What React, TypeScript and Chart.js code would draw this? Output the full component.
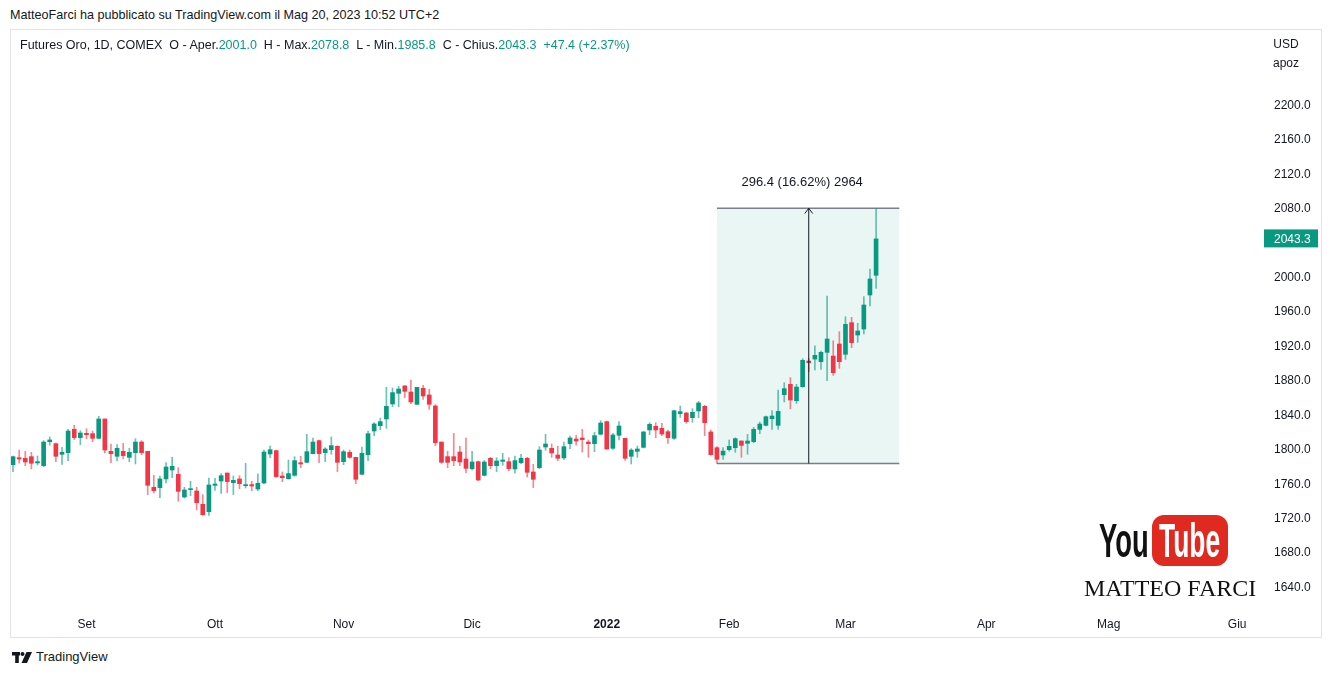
import React, { useEffect, useRef } from 'react';
import { Chart, registerables } from 'chart.js';

Chart.register(...registerables);

// ---- Data (Gold futures, COMEX, daily; index 0 = 16 Aug 2021, index 141 = 8 Mar 2022) ----
const opens = [
  1781.0, 1789.1, 1788.4, 1790.3, 1783.0, 1779.8, 1807.7, 1805.4, 1793.0, 1794.9,
  1822.1, 1812.4, 1817.4, 1817.0, 1811.6, 1834.1, 1796.5, 1790.7, 1796.5, 1789.5,
  1794.9, 1807.3, 1796.5, 1754.7, 1754.3, 1764.4, 1774.8, 1769.8, 1743.4, 1752.0,
  1750.4, 1734.9, 1726.4, 1757.0, 1762.0, 1771.3, 1760.1, 1764.4, 1756.6, 1757.8,
  1752.7, 1759.7, 1793.4, 1797.3, 1767.8, 1764.7, 1768.6, 1783.3, 1783.7, 1793.8,
  1808.9, 1794.9, 1798.4, 1802.3, 1784.5, 1795.3, 1789.5, 1769.8, 1792.6, 1820.1,
  1826.3, 1834.1, 1851.5, 1863.9, 1872.4, 1865.4, 1851.1, 1869.7, 1862.0, 1849.2,
  1807.3, 1790.3, 1790.3, 1795.7, 1787.6, 1776.4, 1784.5, 1768.6, 1788.4, 1779.8,
  1784.9, 1784.5, 1776.0, 1783.3, 1788.4, 1772.5, 1777.5, 1801.5, 1800.0, 1792.2,
  1788.8, 1805.4, 1810.8, 1812.0, 1807.3, 1805.4, 1816.3, 1831.0, 1800.0, 1815.1,
  1811.6, 1790.7, 1796.5, 1801.1, 1821.3, 1825.5, 1823.2, 1819.3, 1811.6, 1840.3,
  1841.0, 1835.6, 1843.4, 1848.8, 1819.0, 1800.7, 1792.2, 1798.4, 1800.7, 1808.5,
  1805.8, 1807.7, 1822.0, 1826.7, 1834.4, 1826.7, 1862.3, 1874.3, 1855.3, 1871.6,
  1901.4, 1903.7, 1900.6, 1911.5, 1907.2, 1921.2, 1909.2, 1946.0, 1931.6, 1938.6,
  1978.1, 2001.0,
];
const highs = [
  1791.1, 1798.0, 1796.5, 1795.3, 1791.1, 1808.9, 1813.2, 1806.2, 1801.1, 1822.1,
  1826.7, 1820.5, 1822.8, 1820.1, 1837.2, 1834.1, 1805.0, 1804.2, 1805.8, 1800.0,
  1811.2, 1808.9, 1796.5, 1768.6, 1767.8, 1783.3, 1789.5, 1777.5, 1754.7, 1761.6,
  1754.7, 1746.2, 1765.5, 1765.1, 1770.6, 1771.3, 1767.8, 1768.2, 1782.6, 1761.6,
  1770.2, 1798.0, 1802.7, 1798.0, 1772.5, 1786.4, 1790.3, 1790.7, 1816.3, 1812.0,
  1809.7, 1800.8, 1813.2, 1803.1, 1798.0, 1798.0, 1789.5, 1801.5, 1820.1, 1829.8,
  1835.2, 1870.9, 1870.1, 1872.0, 1873.2, 1879.4, 1870.9, 1873.2, 1868.5, 1850.7,
  1807.3, 1796.5, 1817.4, 1802.3, 1812.0, 1796.5, 1785.3, 1785.7, 1789.5, 1789.1,
  1794.2, 1789.1, 1791.1, 1793.0, 1789.5, 1781.4, 1801.9, 1816.3, 1805.0, 1802.3,
  1807.3, 1814.3, 1815.1, 1822.1, 1809.7, 1818.6, 1832.1, 1831.7, 1817.4, 1831.0,
  1811.6, 1799.6, 1802.7, 1819.7, 1829.8, 1829.8, 1829.0, 1821.3, 1844.5, 1849.2,
  1841.8, 1846.1, 1854.6, 1850.0, 1821.3, 1801.9, 1800.7, 1809.6, 1812.3, 1808.8,
  1816.2, 1824.3, 1830.5, 1837.5, 1843.7, 1867.7, 1876.2, 1882.1, 1874.3, 1904.1,
  1904.5, 1919.2, 1913.0, 1976.9, 1925.0, 1935.5, 1952.9, 1952.2, 1945.2, 1976.2,
  2008.3, 2078.8,
];
const lows = [
  1772.9, 1782.6, 1779.8, 1776.0, 1780.6, 1778.7, 1803.5, 1784.5, 1781.4, 1785.7,
  1810.1, 1804.2, 1811.2, 1807.7, 1810.8, 1794.6, 1783.3, 1785.3, 1788.0, 1784.5,
  1781.8, 1792.6, 1746.2, 1748.1, 1742.7, 1759.7, 1765.9, 1738.4, 1742.3, 1745.0,
  1728.3, 1722.1, 1722.1, 1751.2, 1747.7, 1748.5, 1746.2, 1753.1, 1753.9, 1750.8,
  1750.8, 1758.9, 1789.1, 1766.3, 1761.3, 1764.0, 1767.5, 1777.5, 1783.3, 1793.4,
  1783.3, 1784.5, 1793.0, 1772.9, 1781.0, 1788.4, 1758.9, 1769.0, 1785.7, 1814.7,
  1821.7, 1823.2, 1848.4, 1848.4, 1858.9, 1851.9, 1850.7, 1856.9, 1845.3, 1803.1,
  1782.6, 1777.5, 1779.8, 1779.8, 1771.7, 1774.8, 1762.4, 1767.8, 1776.4, 1772.9,
  1780.2, 1774.0, 1771.0, 1782.2, 1766.7, 1754.3, 1776.4, 1797.7, 1789.5, 1785.7,
  1787.2, 1799.6, 1803.5, 1795.7, 1789.5, 1796.1, 1815.5, 1798.8, 1798.8, 1809.7,
  1786.0, 1781.8, 1789.5, 1800.4, 1815.9, 1812.4, 1814.7, 1805.8, 1810.4, 1836.0,
  1829.0, 1830.2, 1835.6, 1814.7, 1791.9, 1782.4, 1787.2, 1796.8, 1795.3, 1789.5,
  1793.0, 1806.5, 1817.0, 1825.9, 1822.0, 1822.0, 1853.8, 1846.0, 1852.2, 1870.8,
  1889.0, 1891.0, 1891.7, 1878.6, 1884.8, 1892.9, 1903.3, 1916.9, 1923.1, 1932.8,
  1965.3, 1985.8,
];
const closes = [
  1790.3, 1787.6, 1784.1, 1782.6, 1784.5, 1807.3, 1809.7, 1790.7, 1795.3, 1820.1,
  1812.4, 1817.8, 1815.9, 1811.6, 1834.1, 1798.0, 1793.8, 1800.0, 1791.5, 1795.3,
  1807.3, 1794.9, 1757.0, 1750.8, 1764.4, 1778.3, 1779.1, 1750.0, 1751.6, 1753.1,
  1736.9, 1722.9, 1757.4, 1758.5, 1768.2, 1761.3, 1762.8, 1758.9, 1757.8, 1756.2,
  1759.3, 1795.7, 1798.4, 1767.1, 1765.9, 1770.6, 1785.7, 1781.8, 1796.1, 1807.3,
  1793.8, 1799.2, 1803.1, 1783.7, 1796.1, 1789.5, 1764.0, 1794.2, 1817.0, 1828.3,
  1831.0, 1848.8, 1864.7, 1868.9, 1866.2, 1853.8, 1870.9, 1860.8, 1851.1, 1806.6,
  1783.7, 1783.7, 1785.7, 1784.1, 1776.7, 1784.1, 1763.2, 1784.1, 1779.8, 1785.3,
  1786.4, 1776.4, 1785.7, 1788.4, 1772.1, 1764.0, 1798.0, 1805.0, 1794.6, 1788.4,
  1801.9, 1812.0, 1808.5, 1810.1, 1805.4, 1814.7, 1829.4, 1799.2, 1815.5, 1825.9,
  1788.4, 1798.0, 1799.2, 1819.0, 1827.9, 1821.3, 1816.6, 1812.4, 1843.7, 1842.6,
  1831.0, 1841.8, 1852.7, 1829.8, 1792.6, 1787.2, 1796.8, 1802.3, 1811.2, 1803.4,
  1808.5, 1822.0, 1828.2, 1836.7, 1837.5, 1842.9, 1869.3, 1856.1, 1871.2, 1902.2,
  1899.5, 1908.0, 1911.5, 1927.0, 1887.9, 1900.6, 1944.0, 1922.7, 1936.3, 1966.5,
  1996.7, 2043.3,
];

// Time axis: bar index where each month starts, with its label
const monthTickIdx = [12, 33, 54, 75, 97, 117, 136, 159, 179, 200];
const monthLabels = ['Set', 'Ott', 'Nov', 'Dic', '2022', 'Feb', 'Mar', 'Apr', 'Mag', 'Giu'];
const yearTickIdx = 97;

// Price axis ticks
const priceTicks = [1640, 1680, 1720, 1760, 1800, 1840, 1880, 1920, 1960, 2000, 2080, 2120, 2160, 2200];

// Measurement (price range) tool
const boxStartIdx = 115;
const boxEndIdx = 144.8;
const boxLow = 1782.4;
const boxHigh = 2078.8;
const measureIdx = 130;
const measureLabel = '296.4 (16.62%) 2964';

const lastClose = 2043.3;

const GREEN = '#089981';
const RED = '#f23645';
const GREEN_WICK = 'rgba(8,153,129,0.6)';
const RED_WICK = 'rgba(242,54,69,0.6)';
const TEXT = '#131722';
const FONT = "'Liberation Sans', Arial, sans-serif";

const overlayPlugin = {
  id: 'overlay',
  afterDatasetsDraw(chart: any) {
    const { ctx, chartArea, scales } = chart;
    const x = scales.x;
    const y = scales.y;
    ctx.save();
    // measurement label
    const cx = x.getPixelForValue((boxStartIdx + boxEndIdx) / 2);
    const ty = y.getPixelForValue(boxHigh) - 26;
    ctx.fillStyle = TEXT;
    ctx.font = `13px ${FONT}`;
    ctx.textAlign = 'center';
    ctx.textBaseline = 'middle';
    ctx.fillText(measureLabel, cx - 6, ty);
    // last price label on the price axis
    const py = y.getPixelForValue(lastClose);
    ctx.fillStyle = GREEN;
    ctx.fillRect(chartArea.right - 1, py - 9.5, 54, 18);
    ctx.fillStyle = '#ffffff';
    ctx.font = `12px ${FONT}`;
    ctx.textAlign = 'left';
    ctx.fillText(lastClose.toFixed(1), chartArea.right + 9, py + 0.5);
    ctx.restore();
  },
};

export default function App() {
  const ref = useRef<HTMLCanvasElement>(null);

  useEffect(() => {
    document.body.style.margin = '0';
    const idx = opens.map((_, i) => i);
    const up = opens.map((o, i) => closes[i] >= o);
    const chart = new Chart(ref.current as HTMLCanvasElement, {
      type: 'bar',
      data: {
        datasets: [
          {
            type: 'line',
            label: 'range-top',
            data: [
              { x: boxStartIdx, y: boxHigh },
              { x: boxEndIdx, y: boxHigh },
            ],
            borderColor: '#7b7e88',
            borderWidth: 1.5,
            pointRadius: 0,
            fill: '+1',
            backgroundColor: 'rgba(8,153,129,0.09)',
            order: 6,
          },
          {
            type: 'line',
            label: 'range-bottom',
            data: [
              { x: boxStartIdx, y: boxLow },
              { x: boxEndIdx, y: boxLow },
            ],
            borderColor: '#7b7e88',
            borderWidth: 1.5,
            pointRadius: 0,
            fill: false,
            order: 5,
          },
          {
            type: 'bar',
            label: 'wicks',
            data: idx.map((i) => ({ x: i, y: [lows[i], highs[i]] })),
            backgroundColor: up.map((u) => (u ? GREEN_WICK : RED_WICK)),
            barThickness: 1,
            grouped: false,
            order: 3,
          },
          {
            type: 'bar',
            label: 'bodies',
            data: idx.map((i) => ({ x: i, y: [opens[i], closes[i]] })),
            backgroundColor: up.map((u) => (u ? GREEN : RED)),
            barThickness: 4,
            minBarLength: 1,
            grouped: false,
            order: 2,
          },
          {
            type: 'line',
            label: 'measure',
            data: [
              { x: measureIdx, y: boxLow },
              { x: measureIdx, y: boxHigh },
            ],
            borderColor: TEXT,
            borderWidth: 1,
            pointRadius: 0,
            fill: false,
            order: 1,
          },
          {
            type: 'line',
            label: 'arrow',
            data: [
              { x: measureIdx - 0.65, y: boxHigh - 6 },
              { x: measureIdx, y: boxHigh },
              { x: measureIdx + 0.65, y: boxHigh - 6 },
            ],
            borderColor: TEXT,
            borderWidth: 1,
            pointRadius: 0,
            fill: false,
            order: 0,
          },
        ] as any,
      },
      options: {
        animation: false,
        responsive: false,
        events: [],
        layout: { autoPadding: false, padding: { left: 0, top: 0, right: 0, bottom: 0 } },
        plugins: {
          legend: { display: false },
          tooltip: { enabled: false },
        },
        scales: {
          x: {
            type: 'linear',
            min: -0.33,
            max: 204.54,
            offset: false,
            grid: { display: false, drawTicks: false, offset: false },
            border: { display: false },
            afterBuildTicks: (s: any) => {
              s.ticks = monthTickIdx.map((v) => ({ value: v }));
            },
            afterFit: (s: any) => {
              s.height = 28;
              s.paddingLeft = 0;
              s.paddingRight = 0;
            },
            ticks: {
              autoSkip: false,
              maxRotation: 0,
              padding: 8,
              color: TEXT,
              callback: (_v: any, i: number) => monthLabels[i],
              font: (c: any) => ({
                family: FONT,
                size: 12,
                weight: c.tick && c.tick.value === yearTickIdx ? 'bold' : 'normal',
              }),
            },
          },
          y: {
            type: 'linear',
            position: 'right',
            min: 1613.3,
            max: 2286.0,
            grid: { display: false, drawTicks: false },
            border: { display: false },
            afterBuildTicks: (s: any) => {
              s.ticks = priceTicks.map((v) => ({ value: v }));
            },
            afterFit: (s: any) => {
              s.width = 56;
              s.paddingTop = 0;
              s.paddingBottom = 0;
            },
            ticks: {
              padding: 9,
              labelOffset: 1.5,
              color: TEXT,
              font: { family: FONT, size: 12 },
              callback: (v: any) => Number(v).toFixed(1),
            },
          },
        },
      } as any,
      plugins: [overlayPlugin],
    });
    return () => chart.destroy();
  }, []);

  const abs: React.CSSProperties = { position: 'absolute', whiteSpace: 'nowrap' };
  const yt: React.CSSProperties = {
    ...abs,
    fontFamily: "'Liberation Sans', Arial, sans-serif",
    fontWeight: 'bold',
    fontSize: 48,
    lineHeight: '48px',
    transformOrigin: '0 0',
  };

  return (
    <div style={{ position: 'absolute', left: 0, top: 0, width: 1332, height: 676, background: '#fff', fontFamily: FONT, color: TEXT, overflow: 'hidden' }}>
      <div style={{ ...abs, left: 10, top: 7, fontSize: 12.6, lineHeight: '16px' }}>
        MatteoFarci ha pubblicato su TradingView.com il Mag 20, 2023 10:52 UTC+2
      </div>
      <div style={{ position: 'absolute', left: 10, top: 29, width: 1310, height: 607, border: '1px solid #e0e3eb' }} />
      <canvas ref={ref} width={1310} height={607} style={{ position: 'absolute', left: 11, top: 30, width: 1310, height: 607 }} />
      <div style={{ ...abs, left: 20, top: 37, fontSize: 12.5, lineHeight: '16px' }}>
        Futures Oro, 1D, COMEX&nbsp;&nbsp;O - Aper.<span style={{ color: GREEN }}>2001.0</span>&nbsp;&nbsp;H - Max.<span style={{ color: GREEN }}>2078.8</span>&nbsp;&nbsp;L - Min.<span style={{ color: GREEN }}>1985.8</span>&nbsp;&nbsp;C - Chius.<span style={{ color: GREEN }}>2043.3</span>&nbsp;&nbsp;<span style={{ color: GREEN }}>+47.4 (+2.37%)</span>
      </div>
      <div style={{ ...abs, left: 1266, width: 40, top: 35, fontSize: 12, lineHeight: '19px', textAlign: 'center' }}>
        USD<br />apoz
      </div>
      {/* YouTube / channel badge */}
      <div style={{ ...yt, left: 1099, top: 517, color: '#111', transform: 'scaleX(0.57)' }}>You</div>
      <div style={{ ...abs, left: 1152, top: 515, width: 76, height: 51, borderRadius: 12, background: '#e02a20' }} />
      <div style={{ ...yt, left: 1159, top: 517, color: '#fff', transform: 'scaleX(0.55)' }}>Tube</div>
      <div style={{ ...abs, left: 1084, top: 575, width: 172, fontFamily: "'Liberation Serif', 'Times New Roman', serif", fontSize: 24, lineHeight: '26px', color: '#111', textAlign: 'center' }}>
        MATTEO FARCI
      </div>
      {/* TradingView footer */}
      <svg style={{ position: 'absolute', left: 12, top: 652 }} width={20} height={11} viewBox="0 0 20 11">
        <rect x={0} y={0} width={8} height={3.5} fill="#131722" />
        <rect x={3.2} y={0} width={3.6} height={11} fill="#131722" />
        <circle cx={10.5} cy={2} r={2} fill="#131722" />
        <polygon points="14.5,0 20,0 15,11 9.5,11" fill="#131722" />
      </svg>
      <div style={{ ...abs, left: 36, top: 649, fontSize: 13, lineHeight: '16px' }}>TradingView</div>
    </div>
  );
}
